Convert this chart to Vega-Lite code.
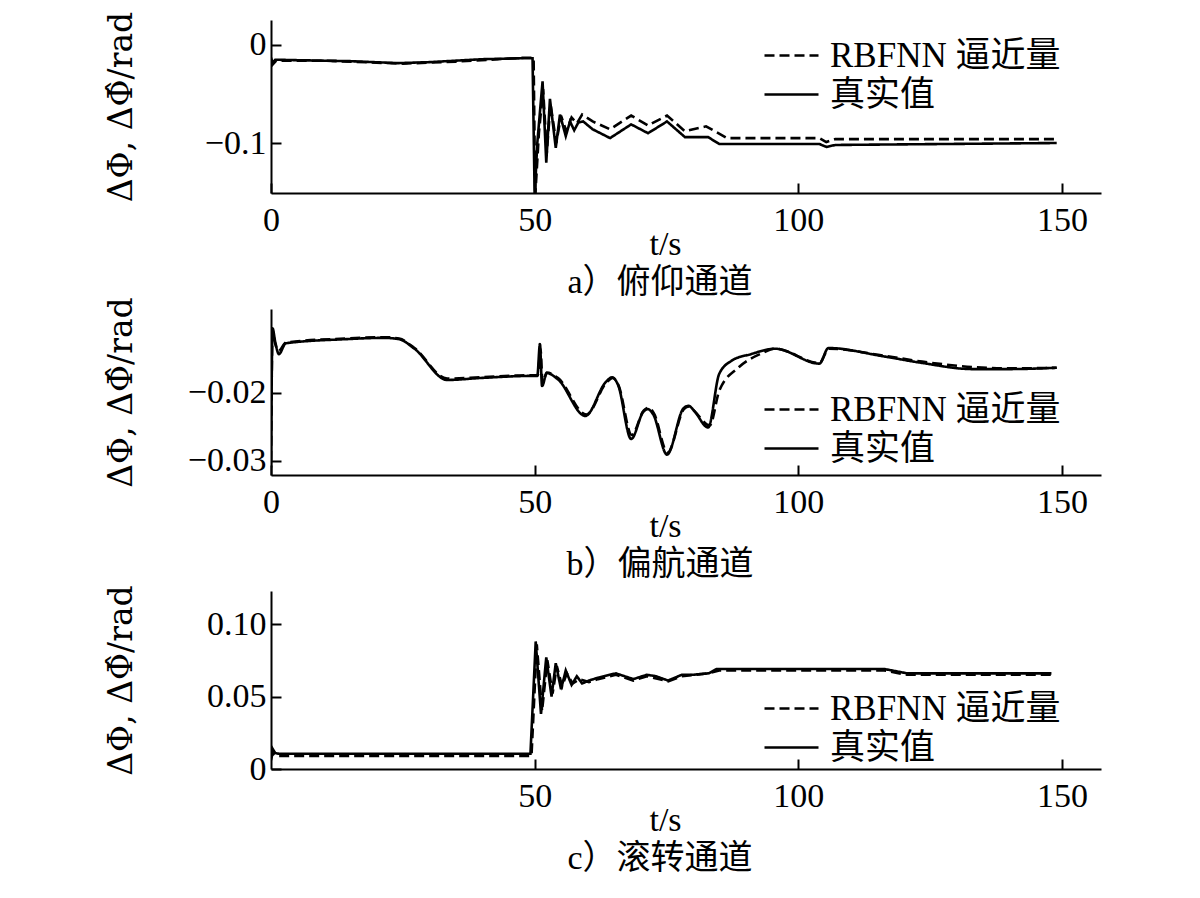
{
  "$schema": "https://vega.github.io/schema/vega-lite/v6.json",
  "background": "white",
  "padding": {"left": 105, "top": 11, "right": 5, "bottom": 5},
  "config": {
    "view": {"stroke": null},
    "font": "Liberation Serif, Noto Sans CJK SC",
    "axis": {
      "grid": false,
      "domainColor": "black",
      "domainWidth": 2,
      "tickColor": "black",
      "tickWidth": 2,
      "tickSize": -10,
      "labelFont": "Liberation Serif",
      "labelFontSize": 34,
      "labelColor": "black",
      "labelFlush": false,
      "labelOverlap": false,
      "titleFont": "Liberation Serif, Noto Sans CJK SC",
      "titleFontSize": 34,
      "titleFontWeight": "normal",
      "titleColor": "black"
    },
    "legend": {
      "title": null,
      "orient": "none",
      "labelFont": "Liberation Serif, Noto Sans CJK SC",
      "labelFontSize": 35,
      "labelColor": "black",
      "labelLimit": 0,
      "symbolType": "M-1.5,0H1.5",
      "symbolSize": 1296,
      "symbolStrokeWidth": 2.5,
      "symbolStrokeColor": "black",
      "labelOffset": 19,
      "rowPadding": 1
    },
    "title": {
      "font": "Liberation Serif, Noto Sans CJK SC",
      "fontSize": 34,
      "fontWeight": "normal",
      "color": "black",
      "orient": "bottom",
      "anchor": "middle",
      "offset": 5
    }
  },
  "datasets": {
    "pitch": [
      {"t": 0, "series": "真实值", "v": -0.013},
      {"t": 0.3, "series": "真实值", "v": -0.018},
      {"t": 0.8, "series": "真实值", "v": -0.015},
      {"t": 5, "series": "真实值", "v": -0.0155},
      {"t": 15, "series": "真实值", "v": -0.0165},
      {"t": 24, "series": "真实值", "v": -0.0185},
      {"t": 30, "series": "真实值", "v": -0.0175},
      {"t": 40, "series": "真实值", "v": -0.0145},
      {"t": 48, "series": "真实值", "v": -0.0135},
      {"t": 49.6, "series": "真实值", "v": -0.0135},
      {"t": 50.0, "series": "真实值", "v": -0.155},
      {"t": 50.5, "series": "真实值", "v": -0.1},
      {"t": 51.5, "series": "真实值", "v": -0.037},
      {"t": 52.2, "series": "真实值", "v": -0.12},
      {"t": 52.9, "series": "真实值", "v": -0.055},
      {"t": 54.0, "series": "真实值", "v": -0.105},
      {"t": 54.8, "series": "真实值", "v": -0.071},
      {"t": 55.9, "series": "真实值", "v": -0.093},
      {"t": 56.7, "series": "真实值", "v": -0.078},
      {"t": 57.5, "series": "真实值", "v": -0.087},
      {"t": 58.3, "series": "真实值", "v": -0.079},
      {"t": 59.2, "series": "真实值", "v": -0.078},
      {"t": 61, "series": "真实值", "v": -0.086},
      {"t": 64.3, "series": "真实值", "v": -0.095},
      {"t": 68.3, "series": "真实值", "v": -0.081},
      {"t": 71.5, "series": "真实值", "v": -0.09},
      {"t": 75.1, "series": "真实值", "v": -0.078},
      {"t": 78.5, "series": "真实值", "v": -0.094},
      {"t": 82.9, "series": "真实值", "v": -0.094},
      {"t": 85, "series": "真实值", "v": -0.101},
      {"t": 104, "series": "真实值", "v": -0.101},
      {"t": 105.3, "series": "真实值", "v": -0.104},
      {"t": 107, "series": "真实值", "v": -0.102},
      {"t": 149, "series": "真实值", "v": -0.1},
      {"t": 0, "series": "RBFNN 逼近量", "v": -0.016},
      {"t": 0.3, "series": "RBFNN 逼近量", "v": -0.02},
      {"t": 1, "series": "RBFNN 逼近量", "v": -0.016},
      {"t": 10, "series": "RBFNN 逼近量", "v": -0.016},
      {"t": 25, "series": "RBFNN 逼近量", "v": -0.019},
      {"t": 35, "series": "RBFNN 逼近量", "v": -0.017},
      {"t": 48, "series": "RBFNN 逼近量", "v": -0.013},
      {"t": 49.8, "series": "RBFNN 逼近量", "v": -0.013},
      {"t": 50.1, "series": "RBFNN 逼近量", "v": -0.155},
      {"t": 50.8, "series": "RBFNN 逼近量", "v": -0.09},
      {"t": 51.6, "series": "RBFNN 逼近量", "v": -0.045},
      {"t": 52.3, "series": "RBFNN 逼近量", "v": -0.11},
      {"t": 53.0, "series": "RBFNN 逼近量", "v": -0.06},
      {"t": 54.1, "series": "RBFNN 逼近量", "v": -0.1},
      {"t": 55, "series": "RBFNN 逼近量", "v": -0.072},
      {"t": 56, "series": "RBFNN 逼近量", "v": -0.088},
      {"t": 57, "series": "RBFNN 逼近量", "v": -0.074},
      {"t": 58, "series": "RBFNN 逼近量", "v": -0.08},
      {"t": 59, "series": "RBFNN 逼近量", "v": -0.071},
      {"t": 61, "series": "RBFNN 逼近量", "v": -0.078},
      {"t": 64.3, "series": "RBFNN 逼近量", "v": -0.086},
      {"t": 68.3, "series": "RBFNN 逼近量", "v": -0.072},
      {"t": 71.5, "series": "RBFNN 逼近量", "v": -0.082},
      {"t": 75.1, "series": "RBFNN 逼近量", "v": -0.072},
      {"t": 78.5, "series": "RBFNN 逼近量", "v": -0.088},
      {"t": 82.5, "series": "RBFNN 逼近量", "v": -0.083},
      {"t": 86.5, "series": "RBFNN 逼近量", "v": -0.095},
      {"t": 104, "series": "RBFNN 逼近量", "v": -0.095},
      {"t": 105.3, "series": "RBFNN 逼近量", "v": -0.099},
      {"t": 107, "series": "RBFNN 逼近量", "v": -0.096},
      {"t": 149, "series": "RBFNN 逼近量", "v": -0.096}
    ],
    "yaw": [
      {"t": 0, "series": "真实值", "v": -0.031},
      {"t": 0.3, "series": "真实值", "v": -0.0105},
      {"t": 0.8, "series": "真实值", "v": -0.0125},
      {"t": 1.5, "series": "真实值", "v": -0.0143},
      {"t": 2.8, "series": "真实值", "v": -0.0127},
      {"t": 14, "series": "真实值", "v": -0.0121},
      {"t": 21.4, "series": "真实值", "v": -0.0119},
      {"t": 24.3, "series": "真实值", "v": -0.0121},
      {"t": 27.2, "series": "真实值", "v": -0.0135},
      {"t": 33.4, "series": "真实值", "v": -0.0181},
      {"t": 40, "series": "真实值", "v": -0.0178},
      {"t": 49.7, "series": "真实值", "v": -0.0175},
      {"t": 50.5, "series": "真实值", "v": -0.0175},
      {"t": 51.0, "series": "真实值", "v": -0.0128},
      {"t": 51.4, "series": "真实值", "v": -0.019},
      {"t": 52.3, "series": "真实值", "v": -0.0171},
      {"t": 54.4, "series": "真实值", "v": -0.018},
      {"t": 59.6, "series": "真实值", "v": -0.0234},
      {"t": 63.5, "series": "真实值", "v": -0.0184},
      {"t": 64.7, "series": "真实值", "v": -0.0177},
      {"t": 65.8, "series": "真实值", "v": -0.0188},
      {"t": 68.3, "series": "真实值", "v": -0.0268},
      {"t": 70.6, "series": "真实值", "v": -0.0228},
      {"t": 71.5, "series": "真实值", "v": -0.0224},
      {"t": 72.5, "series": "真实值", "v": -0.0232},
      {"t": 75.1, "series": "真实值", "v": -0.0291},
      {"t": 78.2, "series": "真实值", "v": -0.0223},
      {"t": 79.2, "series": "真实值", "v": -0.0219},
      {"t": 80.2, "series": "真实值", "v": -0.0226},
      {"t": 82.9, "series": "真实值", "v": -0.0251},
      {"t": 85, "series": "真实值", "v": -0.0172},
      {"t": 87.3, "series": "真实值", "v": -0.0153},
      {"t": 91, "series": "真实值", "v": -0.0143},
      {"t": 95.6, "series": "真实值", "v": -0.0135},
      {"t": 104, "series": "真实值", "v": -0.0157},
      {"t": 105.7, "series": "真实值", "v": -0.0134},
      {"t": 116, "series": "真实值", "v": -0.0146},
      {"t": 123.5, "series": "真实值", "v": -0.0156},
      {"t": 133, "series": "真实值", "v": -0.0165},
      {"t": 140, "series": "真实值", "v": -0.0165},
      {"t": 149, "series": "真实值", "v": -0.0163},
      {"t": 0, "series": "RBFNN 逼近量", "v": -0.03},
      {"t": 0.3, "series": "RBFNN 逼近量", "v": -0.011},
      {"t": 0.8, "series": "RBFNN 逼近量", "v": -0.0128},
      {"t": 1.5, "series": "RBFNN 逼近量", "v": -0.0138},
      {"t": 2.8, "series": "RBFNN 逼近量", "v": -0.0126},
      {"t": 14, "series": "RBFNN 逼近量", "v": -0.012},
      {"t": 21.4, "series": "RBFNN 逼近量", "v": -0.0118},
      {"t": 24.3, "series": "RBFNN 逼近量", "v": -0.012},
      {"t": 27.2, "series": "RBFNN 逼近量", "v": -0.0134},
      {"t": 33.4, "series": "RBFNN 逼近量", "v": -0.0179},
      {"t": 40, "series": "RBFNN 逼近量", "v": -0.0177},
      {"t": 49.7, "series": "RBFNN 逼近量", "v": -0.0174},
      {"t": 50.6, "series": "RBFNN 逼近量", "v": -0.0174},
      {"t": 51.1, "series": "RBFNN 逼近量", "v": -0.0135},
      {"t": 51.5, "series": "RBFNN 逼近量", "v": -0.0185},
      {"t": 52.3, "series": "RBFNN 逼近量", "v": -0.017},
      {"t": 54.4, "series": "RBFNN 逼近量", "v": -0.0178},
      {"t": 59.8, "series": "RBFNN 逼近量", "v": -0.0232},
      {"t": 63.6, "series": "RBFNN 逼近量", "v": -0.0185},
      {"t": 64.8, "series": "RBFNN 逼近量", "v": -0.0178},
      {"t": 65.9, "series": "RBFNN 逼近量", "v": -0.0189},
      {"t": 68.4, "series": "RBFNN 逼近量", "v": -0.0262},
      {"t": 70.7, "series": "RBFNN 逼近量", "v": -0.0226},
      {"t": 71.6, "series": "RBFNN 逼近量", "v": -0.0222},
      {"t": 72.6, "series": "RBFNN 逼近量", "v": -0.023},
      {"t": 75.2, "series": "RBFNN 逼近量", "v": -0.0288},
      {"t": 78.3, "series": "RBFNN 逼近量", "v": -0.0224},
      {"t": 79.3, "series": "RBFNN 逼近量", "v": -0.022},
      {"t": 80.3, "series": "RBFNN 逼近量", "v": -0.0227},
      {"t": 83.2, "series": "RBFNN 逼近量", "v": -0.0248},
      {"t": 85, "series": "RBFNN 逼近量", "v": -0.0197},
      {"t": 88.6, "series": "RBFNN 逼近量", "v": -0.0163},
      {"t": 93, "series": "RBFNN 逼近量", "v": -0.0142},
      {"t": 95.6, "series": "RBFNN 逼近量", "v": -0.0135},
      {"t": 104, "series": "RBFNN 逼近量", "v": -0.0156},
      {"t": 105.8, "series": "RBFNN 逼近量", "v": -0.0135},
      {"t": 116, "series": "RBFNN 逼近量", "v": -0.0145},
      {"t": 123.5, "series": "RBFNN 逼近量", "v": -0.0154},
      {"t": 133, "series": "RBFNN 逼近量", "v": -0.0162},
      {"t": 140, "series": "RBFNN 逼近量", "v": -0.0164},
      {"t": 149, "series": "RBFNN 逼近量", "v": -0.0163}
    ],
    "roll": [
      {"t": 0, "series": "真实值", "v": 0.008},
      {"t": 0.3, "series": "真实值", "v": 0.014},
      {"t": 0.8, "series": "真实值", "v": 0.011},
      {"t": 1.5, "series": "真实值", "v": 0.0105},
      {"t": 49.2, "series": "真实值", "v": 0.0105},
      {"t": 50.2, "series": "真实值", "v": 0.088},
      {"t": 51.2, "series": "真实值", "v": 0.038},
      {"t": 52.2, "series": "真实值", "v": 0.077},
      {"t": 53.2, "series": "真实值", "v": 0.05},
      {"t": 54.0, "series": "真实值", "v": 0.073},
      {"t": 55.0, "series": "真实值", "v": 0.055},
      {"t": 55.9, "series": "真实值", "v": 0.068},
      {"t": 57.0, "series": "真实值", "v": 0.058},
      {"t": 58, "series": "真实值", "v": 0.064},
      {"t": 59, "series": "真实值", "v": 0.059},
      {"t": 60.3, "series": "真实值", "v": 0.061},
      {"t": 62, "series": "真实值", "v": 0.063},
      {"t": 65.4, "series": "真实值", "v": 0.066},
      {"t": 68.7, "series": "真实值", "v": 0.062},
      {"t": 71.3, "series": "真实值", "v": 0.065},
      {"t": 73, "series": "真实值", "v": 0.064},
      {"t": 75.3, "series": "真实值", "v": 0.061},
      {"t": 77.9, "series": "真实值", "v": 0.065},
      {"t": 80, "series": "真实值", "v": 0.065},
      {"t": 83, "series": "真实值", "v": 0.066},
      {"t": 84.5, "series": "真实值", "v": 0.069},
      {"t": 116.3, "series": "真实值", "v": 0.069},
      {"t": 120.6, "series": "真实值", "v": 0.066},
      {"t": 148, "series": "真实值", "v": 0.066},
      {"t": 0, "series": "RBFNN 逼近量", "v": 0.006},
      {"t": 0.3, "series": "RBFNN 逼近量", "v": 0.011},
      {"t": 1, "series": "RBFNN 逼近量", "v": 0.009},
      {"t": 49.4, "series": "RBFNN 逼近量", "v": 0.009},
      {"t": 50.4, "series": "RBFNN 逼近量", "v": 0.086},
      {"t": 51.4, "series": "RBFNN 逼近量", "v": 0.04},
      {"t": 52.4, "series": "RBFNN 逼近量", "v": 0.075},
      {"t": 53.4, "series": "RBFNN 逼近量", "v": 0.052},
      {"t": 54.2, "series": "RBFNN 逼近量", "v": 0.071},
      {"t": 55.2, "series": "RBFNN 逼近量", "v": 0.057},
      {"t": 56.1, "series": "RBFNN 逼近量", "v": 0.066},
      {"t": 57.2, "series": "RBFNN 逼近量", "v": 0.059},
      {"t": 58.5, "series": "RBFNN 逼近量", "v": 0.062},
      {"t": 60.3, "series": "RBFNN 逼近量", "v": 0.06},
      {"t": 62, "series": "RBFNN 逼近量", "v": 0.062},
      {"t": 65.4, "series": "RBFNN 逼近量", "v": 0.065},
      {"t": 68.7, "series": "RBFNN 逼近量", "v": 0.061},
      {"t": 71.3, "series": "RBFNN 逼近量", "v": 0.064},
      {"t": 75.3, "series": "RBFNN 逼近量", "v": 0.0605},
      {"t": 77.9, "series": "RBFNN 逼近量", "v": 0.064},
      {"t": 83, "series": "RBFNN 逼近量", "v": 0.066},
      {"t": 85, "series": "RBFNN 逼近量", "v": 0.068},
      {"t": 116.3, "series": "RBFNN 逼近量", "v": 0.068},
      {"t": 120.6, "series": "RBFNN 逼近量", "v": 0.065},
      {"t": 148, "series": "RBFNN 逼近量", "v": 0.065}
    ]
  },
  "spacing": 116,
  "bounds": "flush",
  "resolve": {
    "scale": {"x": "independent", "y": "independent", "strokeDash": "independent"},
    "legend": {"strokeDash": "independent"}
  },
  "vconcat": [
    {
      "data": {"name": "pitch"},
      "width": 830,
      "height": 173,
      "title": {"text": "a）俯仰通道", "dx": -26},
      "mark": {"type": "line", "clip": true, "strokeWidth": 2.6, "color": "black"},
      "encoding": {
        "x": {
          "field": "t", "type": "quantitative",
          "scale": {"domain": [0, 157.4], "nice": false, "zero": false},
          "axis": {"values": [0, 50, 100, 150], "labelPadding": 20, "title": "t/s", "titleX": 394, "titleY": 61, "titleAlign": "center", "titleBaseline": "alphabetic"}
        },
        "y": {
          "field": "v", "type": "quantitative",
          "scale": {"domain": [-0.151, 0.0255], "nice": false, "zero": false},
          "axis": {"values": [-0.1, 0], "labelExpr": "datum.value == 0 ? '0' : format(datum.value, '.1f')", "labelPadding": 15, "title": "ΔΦ, ΔΦ̂/rad", "titleFont": "DejaVu Serif", "titleFontSize": 33, "titleX": -150, "titleY": 86.5, "titleAngle": 270, "titleAlign": "center", "titleBaseline": "middle"}
        },
        "strokeDash": {
          "field": "series", "type": "nominal",
          "scale": {"domain": ["RBFNN 逼近量", "真实值"], "range": [[10, 5], [1, 0]]},
          "legend": {"legendX": 501, "legendY": 16}
        }
      }
    },
    {
      "data": {"name": "yaw"},
      "width": 830,
      "height": 166,
      "title": {"text": "b）偏航通道", "dx": -26},
      "mark": {"type": "line", "clip": true, "strokeWidth": 2.6, "color": "black", "interpolate": "monotone"},
      "encoding": {
        "x": {
          "field": "t", "type": "quantitative",
          "scale": {"domain": [0, 157.4], "nice": false, "zero": false},
          "axis": {"values": [0, 50, 100, 150], "labelPadding": 20, "title": "t/s", "titleX": 394, "titleY": 61, "titleAlign": "center", "titleBaseline": "alphabetic"}
        },
        "y": {
          "field": "v", "type": "quantitative",
          "scale": {"domain": [-0.0321, -0.00765], "nice": false, "zero": false},
          "axis": {"values": [-0.03, -0.02], "format": ".2f", "labelPadding": 15, "title": "ΔΦ, ΔΦ̂/rad", "titleFont": "DejaVu Serif", "titleFontSize": 33, "titleX": -150, "titleY": 83, "titleAngle": 270, "titleAlign": "center", "titleBaseline": "middle"}
        },
        "strokeDash": {
          "field": "series", "type": "nominal",
          "scale": {"domain": ["RBFNN 逼近量", "真实值"], "range": [[10, 5], [1, 0]]},
          "legend": {"legendX": 501, "legendY": 81}
        }
      }
    },
    {
      "data": {"name": "roll"},
      "width": 830,
      "height": 178,
      "title": {"text": "c）滚转通道", "dx": -26},
      "mark": {"type": "line", "clip": true, "strokeWidth": 2.6, "color": "black"},
      "encoding": {
        "x": {
          "field": "t", "type": "quantitative",
          "scale": {"domain": [0, 157.4], "nice": false, "zero": false},
          "axis": {"values": [50, 100, 150], "labelPadding": 20, "title": "t/s", "titleX": 394, "titleY": 61, "titleAlign": "center", "titleBaseline": "alphabetic"}
        },
        "y": {
          "field": "v", "type": "quantitative",
          "scale": {"domain": [0, 0.1228], "nice": false, "zero": false},
          "axis": {"values": [0, 0.05, 0.1], "labelExpr": "datum.value == 0 ? '0' : format(datum.value, '.2f')", "labelPadding": 15, "title": "ΔΦ, ΔΦ̂/rad", "titleFont": "DejaVu Serif", "titleFontSize": 33, "titleX": -150, "titleY": 89, "titleAngle": 270, "titleAlign": "center", "titleBaseline": "middle"}
        },
        "strokeDash": {
          "field": "series", "type": "nominal",
          "scale": {"domain": ["RBFNN 逼近量", "真实值"], "range": [[10, 5], [1, 0]]},
          "legend": {"legendX": 501, "legendY": 98}
        }
      }
    }
  ]
}
